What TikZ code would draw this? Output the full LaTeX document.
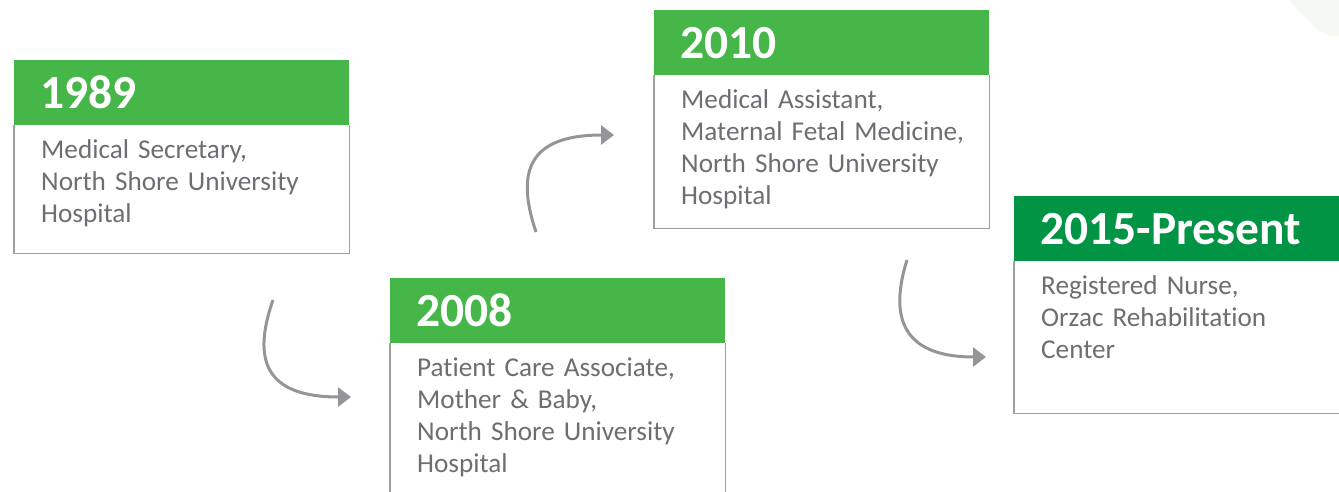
\documentclass[tikz,border=0pt]{standalone}
\usepackage{fontspec}
\setmainfont{Carlito}[Ligatures=NoCommon]
\usetikzlibrary{positioning,arrows.meta}

\definecolor{stepgreen}{HTML}{46B649}
\definecolor{nowgreen}{HTML}{009444}
\definecolor{jobgray}{HTML}{6D6E71}
\definecolor{framegray}{HTML}{A0A0A0}
\definecolor{arrowgray}{HTML}{939598}
\definecolor{faintgreen}{HTML}{F6F9F1}

\begin{document}
\begin{tikzpicture}[x=1pt, y=-1pt,
    year head/.style={anchor=north west, fill=stepgreen, text=white,
        font=\fontsize{47.5}{52}\selectfont\bfseries, minimum width=335pt, minimum height=65pt,
        text width=283pt, inner xsep=26pt, inner ysep=0pt, align=left},
    job text/.style={anchor=base west, text=jobgray, font=\fontsize{27.2}{32}\selectfont,
        text width=300pt, inner sep=0pt, align=left},
    job frame/.style={draw=framegray, line width=1.5pt},
    curve arrow/.style={draw=arrowgray, line width=3pt, -{Triangle[length=13pt,width=19pt]}}]

    \useasboundingbox (0,0) rectangle (1339,491);
    \clip (0,0) rectangle (1339,491);

    % faint corner shape
    \fill[faintgreen, rounded corners=10pt] (1288,-10) -- (1288,0) -- (1324,36) -- (1360,36) -- (1360,-10) -- cycle;

    % 1989
    \node [year head] (h1989) at (14,60) {1989};
    \draw [job frame] (h1989.south west) -- ++(0,128) -| (h1989.south east);
    \node [job text] (t1989) at ([xshift=27pt, yshift=-33pt]h1989.south west)
        {Medical Secretary,\\North Shore University\\Hospital};

    % 2008
    \node [year head] (h2008) at (390,278) {2008};
    \draw [job frame] (h2008.south west) -- ++(0,160) -| (h2008.south east);
    \node [job text] (t2008) at ([xshift=27pt, yshift=-33pt]h2008.south west)
        {Patient Care Associate,\\Mother \& Baby,\\North Shore University\\Hospital};

    % 2010
    \node [year head] (h2010) at (654,10) {2010};
    \draw [job frame] (h2010.south west) -- ++(0,153) -| (h2010.south east);
    \node [job text] (t2010) at ([xshift=27pt, yshift=-33pt]h2010.south west)
        {Medical Assistant,\\Maternal Fetal Medicine,\\North Shore University\\Hospital};

    % 2015-Present
    \node [year head, fill=nowgreen, minimum width=360pt, text width=308pt] (h2015) at (1014,196) {2015-Present};
    \draw [job frame] (h2015.south west) -- ++(0,152) -| (h2015.south east);
    \node [job text] (t2015) at ([xshift=27pt, yshift=-33pt]h2015.south west)
        {Registered Nurse,\\Orzac Rehabilitation\\Center};

    % arrows between the steps
    \coordinate (a1s) at (273,300);
    \coordinate (a1e) at (351,397);
    \coordinate (a2s) at (536,232);
    \coordinate (a2e) at (614,135);
    \coordinate (a3s) at (907,260);
    \coordinate (a3e) at (986,357);
    \draw [curve arrow] (a1s) .. controls (252,360) and (265,397) .. (a1e);
    \draw [curve arrow] (a2s) .. controls (515,170) and (530,135) .. (a2e);
    \draw [curve arrow] (a3s) .. controls (885,330) and (915,357) .. (a3e);

\end{tikzpicture}
\end{document}
